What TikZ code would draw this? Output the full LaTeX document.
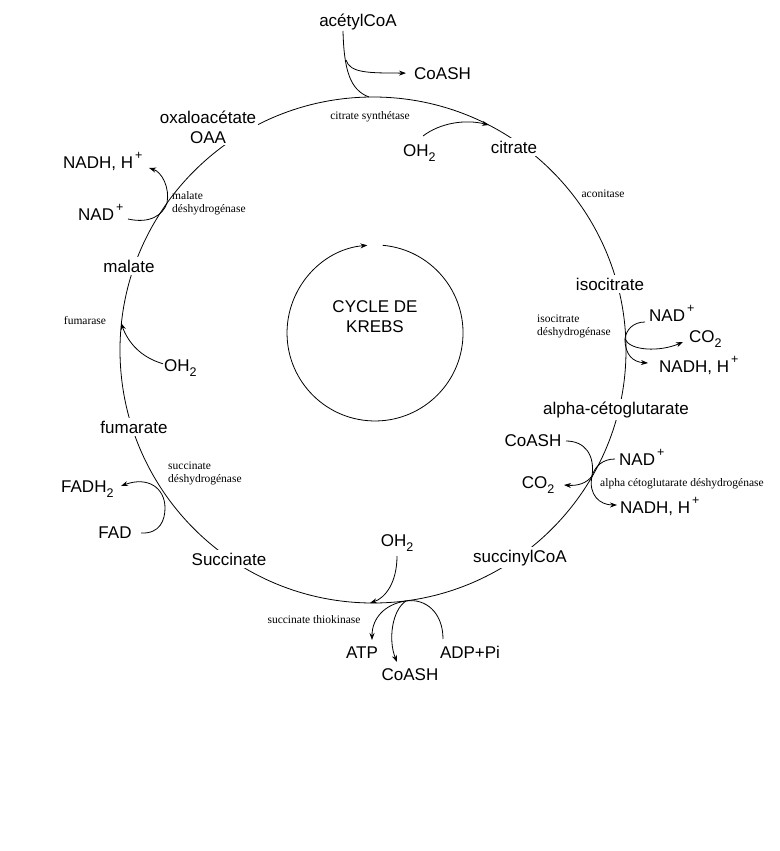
\documentclass[tikz,border=0pt]{standalone}
\usepackage{fontspec}
\setmainfont{Liberation Sans}
\newfontfamily\enzfont{Liberation Serif}
\usetikzlibrary{arrows.meta}
\newcommand{\mysub}[1]{\raisebox{-0.32em}{\fontsize{12.5}{12.5}\selectfont #1}}
\newcommand{\mysup}[1]{\hspace{2pt}\raisebox{0.5em}{\fontsize{12.5}{12.5}\selectfont #1}}
\begin{document}
\begin{tikzpicture}[x=1pt,y=-1pt,
  lab/.style={font=\fontsize{17}{20}\selectfont, inner sep=1pt, align=center},
  onc/.style={lab, fill=white, inner sep=2.5pt},
  enz/.style={font=\enzfont\fontsize{11.5}{12.5}\selectfont, inner sep=0pt, align=left},
  conn/.style={line width=0.8pt},
  arr/.style={conn, -{Stealth[length=7pt,width=5pt]}},
]
\useasboundingbox (0,0) rectangle (779,851);
\fill[white] (0,0) rectangle (779,851);

% main cycle
\coordinate (C) at (373,350);
\draw[conn] (C) circle[radius=253pt];

% inner cycle
\coordinate (ic) at (375,333);
\coordinate (ics) at (382.7,245.3);
\draw[arr] (ics) arc[start angle=85, end angle=-265, radius=88pt];
\node[lab, anchor=base] (cyc) at (375,332) {CYCLE DE\\KREBS};

% junction points on the cycle
\coordinate (jA) at (369,97);
\coordinate (jB) at (489,125);
\coordinate (jI) at (625,339);
\coordinate (jK) at (592,476);
\coordinate (jT1) at (370,603);
\coordinate (jT2) at (406,601);
\coordinate (jF) at (121,323);
\coordinate (jM) at (167,203);

% labels on the cycle
\node[onc, anchor=base] (citrate) at (514,153) {citrate};
\node[onc, anchor=base] (isocitrate) at (610,290) {isocitrate};
\node[onc, anchor=base] (akg) at (616,414) {alpha-cétoglutarate};
\node[onc, anchor=base] (succoa) at (520,562) {succinylCoA};
\node[onc, anchor=base] (succ) at (229,565) {Succinate};
\node[onc, anchor=base] (fumarate) at (134,433) {fumarate};
\node[onc, anchor=base] (malate) at (129,272) {malate};
\node[onc, anchor=base, inner sep=1.5pt] (oxa) at (208,143) {oxaloacétate\\OAA};

% other labels
\node[lab, anchor=base] (acetyl) at (358,27) {acétylCoA};
\node[lab, anchor=base west] (coashTop) at (413,79) {CoASH};
\node[lab, anchor=base west] (oh2a) at (402,156) {OH\mysub{2}};
\node[lab, anchor=base west] (nadI) at (648,321) {NAD\mysup{+}};
\node[lab, anchor=base west] (co2I) at (688,342) {CO\mysub{2}};
\node[lab, anchor=base west] (nadhI) at (658,372) {NADH, H\mysup{+}};
\node[lab, anchor=base] (coashR) at (533,446) {CoASH};
\node[lab, anchor=base west] (nadR) at (618,465) {NAD\mysup{+}};
\node[lab, anchor=base] (co2R) at (538,488) {CO\mysub{2}};
\node[lab, anchor=base west] (nadhR) at (619,513) {NADH, H\mysup{+}};
\node[lab, anchor=base] (oh2b) at (397,546) {OH\mysub{2}};
\node[lab, anchor=base] (atp) at (362,658) {ATP};
\node[lab, anchor=base] (coashB) at (410,680) {CoASH};
\node[lab, anchor=base] (adp) at (470,658) {ADP+Pi};
\node[lab, anchor=base west] (fadh2) at (60,492) {FADH\mysub{2}};
\node[lab, anchor=base] (fad) at (115,538) {FAD};
\node[lab, anchor=base west] (oh2c) at (163,371) {OH\mysub{2}};
\node[lab, anchor=base west] (nadL) at (77,220) {NAD\mysup{+}};
\node[lab, anchor=base west] (nadhL) at (62,168) {NADH, H\mysup{+}};

% enzymes
\node[enz, anchor=base] (cs) at (370,119) {citrate synthétase};
\node[enz, anchor=base] (aco) at (603,197) {aconitase};
\node[enz, anchor=base west] (idh) at (537,335) {isocitrate\\déshydrogénase};
\node[enz, anchor=base west] (akgdh) at (600,486) {alpha cétoglutarate déshydrogénase};
\node[enz, anchor=base] (thio) at (314,623) {succinate thiokinase};
\node[enz, anchor=base west] (sdh) at (168,482) {succinate\\déshydrogénase};
\node[enz, anchor=base] (fum) at (85,324) {fumarase};
\node[enz, anchor=base west] (mdh) at (172,212) {malate\\déshydrogénase};

% citrate synthetase
\coordinate (a0) at (343,31);
\coordinate (bA) at (346,60);
\draw[conn] (a0) .. controls (344,70) and (350,90) .. (jA);
\draw[arr, shorten >=7pt] (bA) .. controls (350,73) and (368,73) .. (coashTop.west);
\coordinate (o1) at (423,136);
\draw[arr] (o1) .. controls (440,123) and (465,119) .. (jB);

% isocitrate dehydrogenase
\coordinate (i0) at (645,322);
\coordinate (i1) at (683,342);
\coordinate (i2) at (648,363);
\draw[conn] (i0) .. controls (633,322) and (626,330) .. (jI);
\draw[arr] (jI) .. controls (630,351) and (660,352) .. (i1);
\draw[arr] (jI) .. controls (625,355) and (633,362) .. (i2);

% alpha-ketoglutarate dehydrogenase
\coordinate (k0) at (566,441);
\coordinate (k1) at (615,459);
\coordinate (k2) at (564,485);
\coordinate (k3) at (617,505);
\draw[conn] (k0) .. controls (585,441) and (595,455) .. (jK);
\draw[conn] (k1) .. controls (603,459) and (595,466) .. (jK);
\draw[arr] (jK) .. controls (587,483) and (578,486) .. (k2);
\draw[arr] (jK) .. controls (588,495) and (600,505) .. (k3);

% succinate thiokinase
\coordinate (t0) at (397,556);
\coordinate (t1) at (372,640);
\coordinate (t2) at (397,662);
\coordinate (t3) at (443,639);
\draw[arr] (t0) .. controls (397,583) and (385,598) .. (jT1);
\draw[arr] (jT2) .. controls (385,604) and (372,618) .. (t1);
\draw[arr] (jT2) .. controls (392,610) and (388,640) .. (t2);
\draw[conn] (t3) .. controls (443,612) and (425,598) .. (jT2);

% succinate dehydrogenase
\coordinate (f1) at (141,533);
\coordinate (f2) at (165,508);
\coordinate (f3) at (121,486);
\draw[arr] (f1) .. controls (160,534) and (165,520) .. (f2) .. controls (165,488) and (148,476) .. (f3);

% fumarase
\draw[arr] (oh2c.west) ++(0,-4) .. controls (140,357) and (128,342) .. (jF);

% malate dehydrogenase
\coordinate (m0) at (128,219);
\coordinate (m1) at (149,168);
\draw[arr] (m0) .. controls (150,224) and (163,215) .. (jM) .. controls (170,188) and (162,172) .. (m1);
\end{tikzpicture}
\end{document}
